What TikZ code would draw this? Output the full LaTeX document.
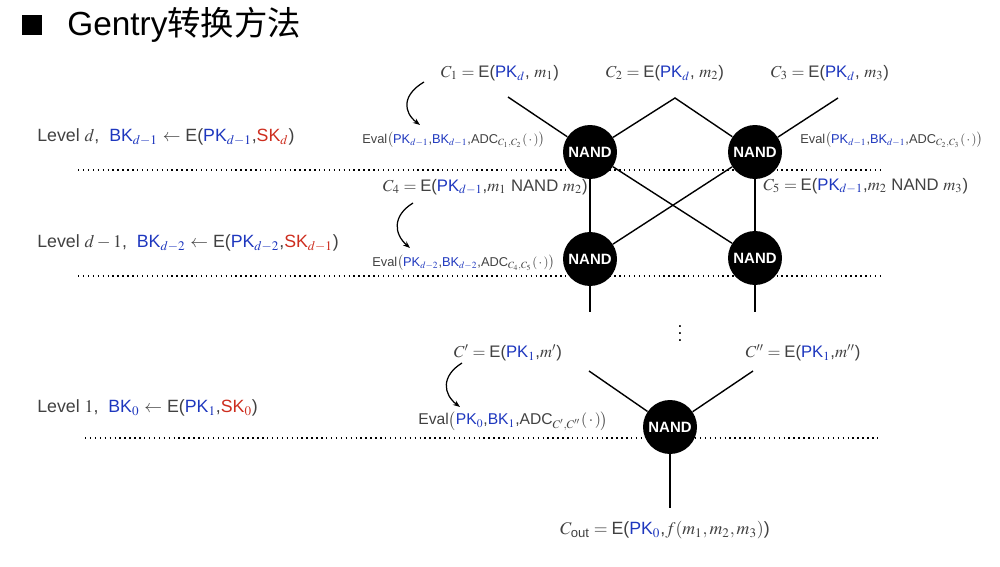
\documentclass[tikz,border=0pt]{standalone}
\usepackage{amsmath}
\usepackage{mathptmx}
\usepackage{fontspec}
\setmainfont{Liberation Sans}
\newfontfamily\cjk{Noto Sans CJK SC}
\usetikzlibrary{positioning,arrows.meta}
\definecolor{keyblue}{RGB}{30,55,190}
\definecolor{keyred}{RGB}{205,45,30}
\definecolor{txtgray}{RGB}{65,65,65}
\newcommand{\PK}[1]{\textcolor{keyblue}{PK$_{#1}$}}
\newcommand{\BK}[1]{\textcolor{keyblue}{BK$_{#1}$}}
\newcommand{\SK}[1]{\textcolor{keyred}{SK$_{#1}$}}
\tikzset{
  nand/.style={circle, fill=black, minimum size=10.8mm, inner sep=0pt,
    text=white, font=\fontsize{8.5}{10}\selectfont\bfseries},
  wire/.style={line width=0.8pt},
  level/.style={dotted, line width=0.8pt},
  lbl/.style={inner sep=0pt, text=txtgray, font=\fontsize{9.5}{11}\selectfont},
  lvl/.style={lbl, anchor=west, font=\fontsize{10.1}{12}\selectfont},
  evl/.style={inner sep=0pt, text=txtgray, font=\fontsize{7.3}{8}\selectfont},
  hop/.style={line width=0.7pt, -{Stealth[length=4pt,width=3pt]}}
}
\begin{document}
\begin{tikzpicture}[x=0.02cm, y=-0.02cm]
    \useasboundingbox (0,0) rectangle (1000,567);
    % title
    \fill (22,15) rectangle (42,35);
    \node[anchor=west, inner sep=0pt, font=\fontsize{19}{22}\selectfont] (title) at (67,25) {Gentry{\cjk 转换方法}};
    % level labels
    \node[lvl] (lvd) at (37,137) {Level $d$,\ \ \BK{d-1} $\leftarrow$ E(\PK{d-1},\SK{d})};
    \node[lvl] (lvdm) at (37,243) {Level $d-1$,\ \ \BK{d-2} $\leftarrow$ E(\PK{d-2},\SK{d-1})};
    \node[lvl] (lvone) at (37,408) {Level $1$,\ \ \BK{0} $\leftarrow$ E(\PK{1},\SK{0})};
    % level separators
    \coordinate (sepa) at (78,170);   \coordinate (sepb) at (880,170);
    \coordinate (sepc) at (78,276);   \coordinate (sepd) at (880,276);
    \coordinate (sepe) at (85,438);   \coordinate (sepf) at (880,438);
    \draw[level] (sepa) -- (sepb);
    \draw[level] (sepc) -- (sepd);
    \draw[level] (sepe) -- (sepf);
    % gates
    \node[nand] (ga) at (590,152) {NAND};
    \node[nand] (gb) at (755,152) {NAND};
    \node[nand] (gc) at (590,259) {NAND};
    \node[nand] (gd) at (755,258) {NAND};
    \node[nand] (ge) at (670,427) {NAND};
    % inputs
    \node[lbl] (ca) at (500,73) {$C_1={}$E(\PK{d}, $m_1$)};
    \node[lbl] (cb) at (665,73) {$C_2={}$E(\PK{d}, $m_2$)};
    \node[lbl] (cc) at (830,73) {$C_3={}$E(\PK{d}, $m_3$)};
    \coordinate (ina) at (508,97);
    \coordinate (apex) at (675,98);
    \coordinate (inc) at (838,98);
    \draw[wire] (ina) -- (ga);
    \draw[wire] (ga) -- (apex) -- (gb);
    \draw[wire] (inc) -- (gb);
    \draw[wire] (ga) -- (gc);
    \draw[wire] (gb) -- (gd);
    \draw[wire] (ga) -- (gd);
    \draw[wire] (gb) -- (gc);
    \coordinate (outc) at (590,312);
    \coordinate (outd) at (755,312);
    \draw[wire] (gc) -- (outc);
    \draw[wire] (gd) -- (outd);
    \node[inner sep=0pt] (dots) at (680,328) {$\vdots$};
    % last level
    \coordinate (ine) at (589,371);
    \coordinate (inf) at (753,371);
    \coordinate (oute) at (670,508);
    \draw[wire] (ine) -- (ge);
    \draw[wire] (inf) -- (ge);
    \draw[wire] (ge) -- (oute);
    % evaluations
    \node[evl, anchor=west] (eva) at (362,140) {Eval$\big($\PK{d-1},\BK{d-1},ADC$_{C_1,C_2}(\,\cdot\,)\big)$};
    \node[evl, anchor=west] (evb) at (800,140) {Eval$\big($\PK{d-1},\BK{d-1},ADC$_{C_2,C_3}(\,\cdot\,)\big)$};
    \node[lbl, anchor=east] (cd) at (588,187) {$C_4={}$E(\PK{d-1},$m_1$ NAND $m_2$)};
    \node[lbl, anchor=west] (ce) at (763,186) {$C_5={}$E(\PK{d-1},$m_2$ NAND $m_3$)};
    \node[evl, anchor=west] (evc) at (372,263) {Eval$\big($\PK{d-2},\BK{d-2},ADC$_{C_4,C_5}(\,\cdot\,)\big)$};
    \node[lbl] (cp) at (508,353) {$C'={}$E(\PK{1},$m'$)};
    \node[lbl] (cpp) at (803,353) {$C''={}$E(\PK{1},$m''$)};
    \node[lbl, anchor=west, font=\fontsize{8.9}{10}\selectfont] (evd) at (418,421) {Eval$\big($\PK{0},\BK{1},ADC$_{C',C''}(\,\cdot\,)\big)$};
    \node[lvl, anchor=center] (cout) at (665,530) {$C_{\text{out}}={}$E(\PK{0},$f(m_1,m_2,m_3)$)};
    % hops
    \coordinate (hpa) at (424,82);  \coordinate (hpb) at (420,125);
    \coordinate (hpc) at (413,203); \coordinate (hpd) at (410,248);
    \coordinate (hpe) at (462,363); \coordinate (hpf) at (460,407);
    \draw[hop] (hpa) .. controls (402,95) and (403,112) .. (hpb);
    \draw[hop] (hpc) .. controls (392,216) and (394,234) .. (hpd);
    \draw[hop] (hpe) .. controls (441,376) and (443,394) .. (hpf);
\end{tikzpicture}
\end{document}
